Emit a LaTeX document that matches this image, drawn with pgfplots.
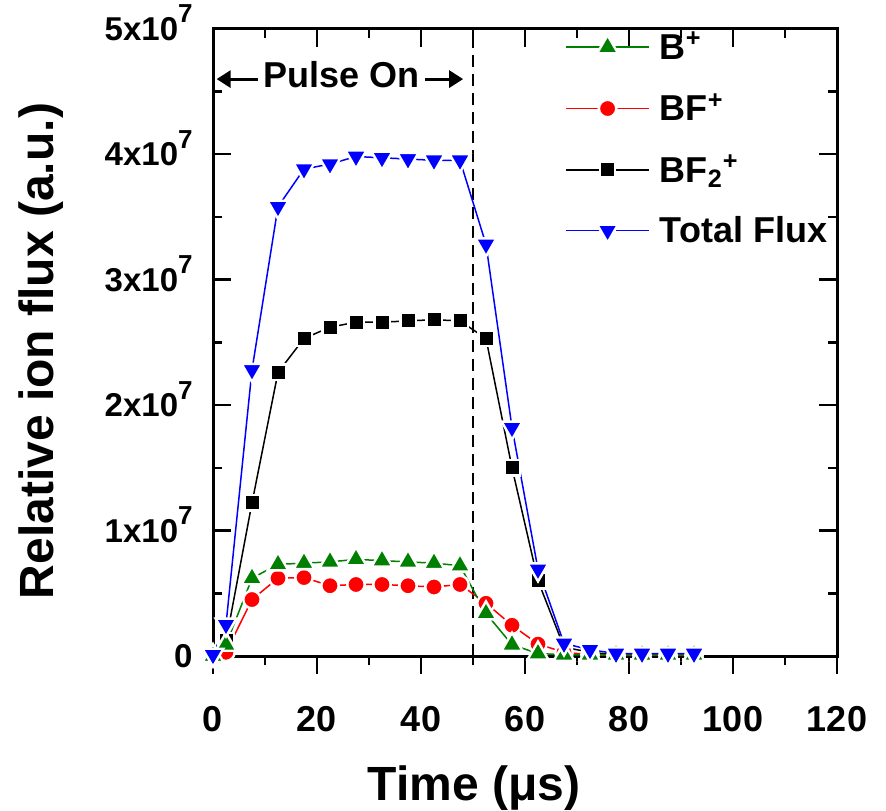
\documentclass[border=0pt]{standalone}
\usepackage{fontspec}
\setmainfont{Liberation Sans}
\usepackage{pgfplots}
\pgfplotsset{compat=1.18}
\usetikzlibrary{arrows.meta}
\definecolor{ogreen}{RGB}{0,128,0}
\newcommand{\ytfont}{\fontsize{16.5}{16.5}\bfseries\selectfont}
\newcommand{\xtfont}{\fontsize{18}{18}\bfseries\selectfont}
\newcommand{\labfont}{\fontsize{24}{24}\bfseries\selectfont}
\newcommand{\lgfont}{\fontsize{18}{18}\bfseries\selectfont}
\newcommand{\sev}{\raisebox{8.8pt}{\fontsize{13}{13}\bfseries\selectfont 7}}
\pgfplotsset{
  sB/.style={ogreen, line width=0.75pt, mark=triangle*, mark size=6pt,
    mark options={solid, fill=ogreen, draw=white, line width=1.2pt}},
  sBF/.style={red, line width=0.75pt, mark=*, mark size=4.35pt,
    mark options={solid, fill=red, draw=white, line width=1.2pt}},
  sBF2/.style={black, line width=0.75pt, mark=square*, mark size=3.85pt,
    mark options={solid, fill=black, draw=white, line width=1.2pt}},
  sT/.style={blue, line width=0.75pt, mark=triangle*, mark size=6pt,
    mark options={solid, rotate=180, fill=blue, draw=white, line width=1.2pt}},
}
\begin{document}
\begin{tikzpicture}
\useasboundingbox (-106.5pt,-77pt) rectangle (336.5pt,328pt);
% bottom axis: outward ticks with labels
\begin{axis}[
  at={(0,0)}, anchor=south west, scale only axis, width=312pt, height=313.75pt,
  xmin=0, xmax=120, ymin=0, ymax=5e7,
  axis line style={line width=1.5pt},
  tick align=outside, xtick pos=left, ytick=\empty,
  xtick={0,20,40,60,80,100,120}, xticklabels={0,20,40,60,80,100,120},
  minor x tick num=1,
  major tick length=9pt, minor tick length=4.5pt,
  every tick/.style={black, line width=1.25pt},
  xticklabel style={anchor=base, inner sep=0pt, yshift=-28.5pt, font=\xtfont},
  xlabel={Time (μs)},
  xlabel style={at={(axis description cs:0.418,-0.2295)}, anchor=base, inner sep=0pt, font=\labfont},
]
\end{axis}
\begin{axis}[
  at={(0,0)}, anchor=south west, scale only axis, width=312pt, height=313.75pt,
  xmin=0, xmax=120, ymin=0, ymax=5e7,
  axis line style={line width=1.5pt},
  tick align=inside, xtick pos=right, ytick pos=both,
  xtick={0,20,40,60,80,100,120}, xticklabels={}, minor x tick num=1,
  ytick={0,1e7,2e7,3e7,4e7,5e7}, minor y tick num=1,
  yticklabels={0,{1x10\sev},{2x10\sev},{3x10\sev},{4x10\sev},{5x10\sev}},
  scaled y ticks=false,
  major tick length=9pt, minor tick length=4.5pt,
  every tick/.style={black, line width=1.25pt},
  yticklabel style={anchor=base east, inner sep=0pt, xshift=-10pt, yshift=-5.9pt, font=\ytfont},
  ylabel={Relative ion flux (a.u.)},
  ylabel style={at={(axis description cs:-0.2564,0.486)}, anchor=base, inner sep=0pt, font=\labfont},
  legend style={draw=none, fill=none, at={(axis description cs:0.564,0.995)}, anchor=north west,
    font=\lgfont, row sep=15.5pt, inner sep=0pt, nodes={inner sep=0pt},
    /tikz/every odd column/.append style={column sep=5pt}},
  legend cell align=left,
  legend image code/.code={\draw[mark repeat=2,mark phase=2,#1] plot coordinates {(0pt,0pt)(20.75pt,0pt)(41.5pt,0pt)};},
]
\addlegendimage{sB}\addlegendentry{B\textsuperscript{+}}
\addlegendimage{sBF}\addlegendentry{BF\textsuperscript{+}}
\addlegendimage{sBF2}\addlegendentry{BF\textsubscript{2}\textsuperscript{+}}
\addlegendimage{sT}\addlegendentry{Total Flux}
\addplot[forget plot, black, line width=1.2pt, dash pattern=on 6pt off 3.5pt] coordinates {(50,0) (50,5e7)};
\addplot[forget plot, sBF2] coordinates {
(0,0) (2.5,0.12e7) (7.5,1.22e7) (12.5,2.26e7) (17.5,2.53e7) (22.5,2.62e7) (27.5,2.66e7) (32.5,2.66e7) (37.5,2.67e7) (42.5,2.68e7) (47.5,2.67e7) (52.5,2.53e7) (57.5,1.50e7) (62.5,0.60e7) (67.5,0.07e7) (72.5,0.03e7) (77.5,0.01e7) (82.5,0.01e7) (87.5,0.01e7) (92.5,0.01e7)};
\addplot[forget plot, sBF] coordinates {
(0,0) (2.5,0.03e7) (7.5,0.45e7) (12.5,0.62e7) (17.5,0.625e7) (22.5,0.56e7) (27.5,0.57e7) (32.5,0.57e7) (37.5,0.56e7) (42.5,0.55e7) (47.5,0.57e7) (52.5,0.42e7) (57.5,0.245e7) (62.5,0.095e7) (67.5,0.03e7) (72.5,0.01e7) (77.5,0.005e7) (82.5,0.005e7) (87.5,0.005e7) (92.5,0.005e7)};
\addplot[forget plot, sB] coordinates {
(0,0) (2.5,0.09e7) (7.5,0.62e7) (12.5,0.73e7) (17.5,0.74e7) (22.5,0.75e7) (27.5,0.77e7) (32.5,0.76e7) (37.5,0.75e7) (42.5,0.74e7) (47.5,0.72e7) (52.5,0.34e7) (57.5,0.09e7) (62.5,0.02e7) (67.5,0.01e7) (72.5,0.01e7) (77.5,0.01e7) (82.5,0.01e7) (87.5,0.01e7) (92.5,0.01e7)};
\addplot[forget plot, sT] coordinates {
(0,0.01e7) (2.5,0.25e7) (7.5,2.28e7) (12.5,3.58e7) (17.5,3.88e7) (22.5,3.92e7) (27.5,3.98e7) (32.5,3.97e7) (37.5,3.96e7) (42.5,3.95e7) (47.5,3.95e7) (52.5,3.28e7) (57.5,1.82e7) (62.5,0.69e7) (67.5,0.10e7) (72.5,0.05e7) (77.5,0.02e7) (82.5,0.02e7) (87.5,0.02e7) (92.5,0.02e7)};
\draw[line width=1.5pt, -{Triangle[length=7pt,width=8.5pt]}] (axis cs:8.65,4.597e7) -- (axis cs:0.7,4.597e7);
\draw[line width=1.5pt, -{Triangle[length=7pt,width=8.5pt]}] (axis cs:40.8,4.597e7) -- (axis cs:48.1,4.597e7);
\node[anchor=base, inner sep=0pt, font=\lgfont] at (axis cs:24.8,4.533e7) {Pulse On};
\end{axis}
\end{tikzpicture}
\end{document}
